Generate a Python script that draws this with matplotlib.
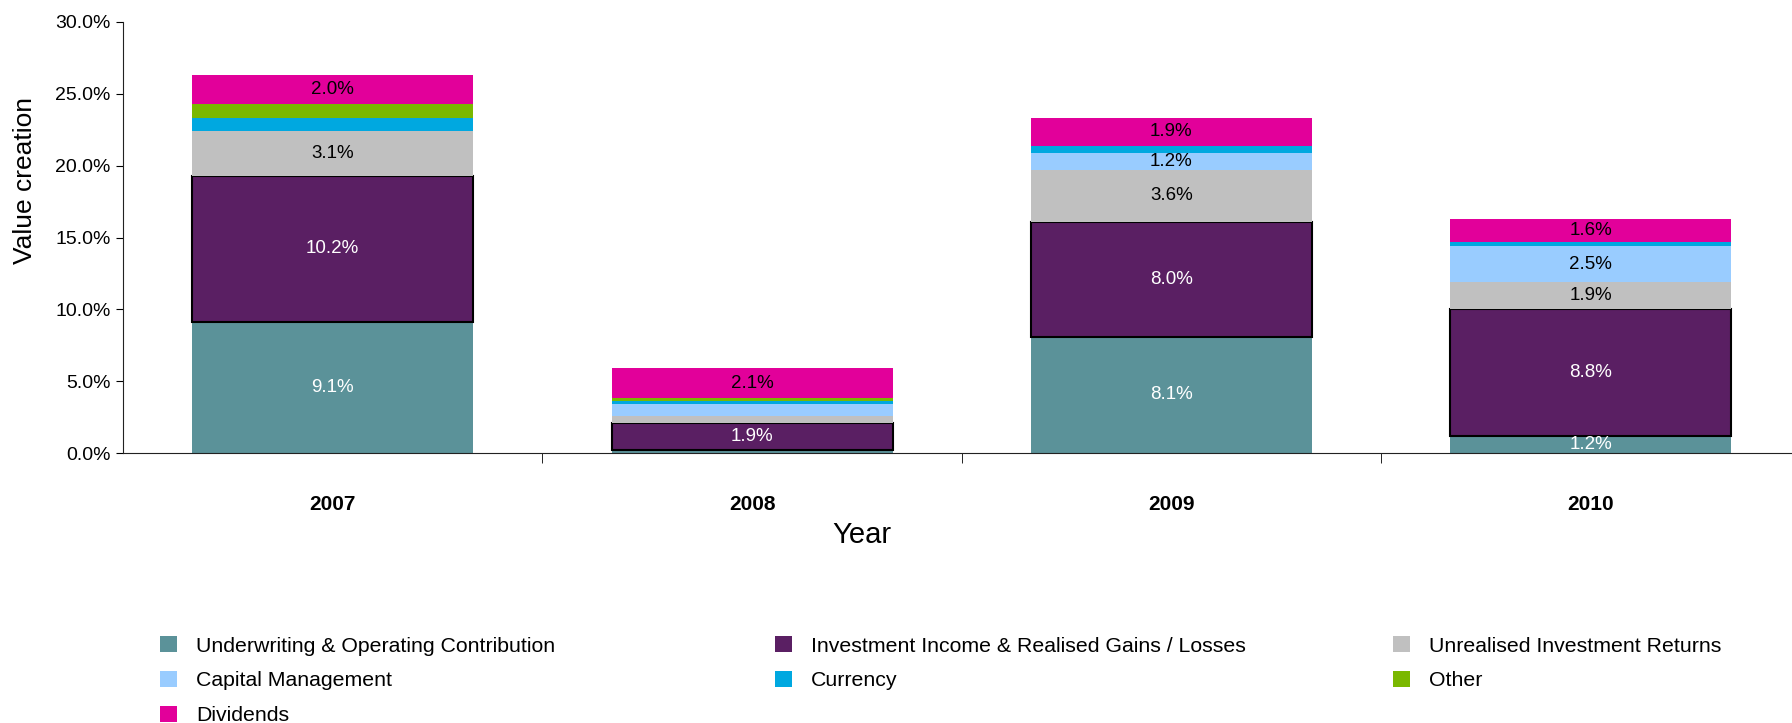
import numpy as np
import matplotlib
matplotlib.use("Agg")
import matplotlib.pyplot as plt
from matplotlib.patches import Patch
from matplotlib.ticker import FuncFormatter, FixedLocator

plt.rcParams['font.family'] = ['Liberation Sans', 'DejaVu Sans']

years = ["2007", "2008", "2009", "2010"]

underwriting = [9.1, 0.2, 8.1, 1.2]
investment_income = [10.2, 1.9, 8.0, 8.8]
unrealised = [3.1, 0.5, 3.6, 1.9]
capital_mgmt = [0.0, 0.8, 1.2, 2.5]
currency = [0.9, 0.2, 0.5, 0.3]
other = [1.0, 0.2, 0.0, 0.0]
dividends = [2.0, 2.1, 1.9, 1.6]

series = [
    ("Underwriting & Operating Contribution", underwriting, "#5B9299", "white"),
    ("Investment Income & Realised Gains / Losses", investment_income, "#5A1F63", "white"),
    ("Unrealised Investment Returns", unrealised, "#C0C0C0", "black"),
    ("Capital Management", capital_mgmt, "#99CCFF", "black"),
    ("Currency", currency, "#00A8E0", "black"),
    ("Other", other, "#7AB800", "black"),
    ("Dividends", dividends, "#E2009A", "black"),
]

W, H = 1792, 723
fig = plt.figure(figsize=(W / 100, H / 100), dpi=100)
ax = fig.add_axes([123 / W, 1 - 453 / H, (W - 123) / W, (453 - 22) / H])

x = np.arange(len(years))
bottom = np.zeros(len(years))
colors = {}
for name, vals, color, txt in series:
    vals = np.array(vals)
    edge = "black" if name.startswith("Investment Income") else "none"
    ax.bar(x, vals, width=0.67, bottom=bottom, color=color,
           edgecolor=edge, linewidth=1.5 if edge != "none" else 0, zorder=2)
    colors[name] = color
    for xi, v, b in zip(x, vals, bottom):
        if v >= 1.1:
            ax.text(xi, b + v / 2, f"{v:.1f}%", ha="center", va="center",
                    color=txt, fontsize=13.5, zorder=3)
    bottom += vals

ax.set_xlim(-0.5, 3.48)
ax.set_ylim(0, 30)
ax.yaxis.set_major_locator(FixedLocator(np.arange(0, 30.1, 5)))
ax.yaxis.set_major_formatter(FuncFormatter(lambda v, p: f"{v:.1f}%"))
ax.tick_params(axis="y", labelsize=14, length=5, direction="out", pad=4)

ax.set_xticks(x)
ax.set_xticklabels(years, fontsize=15, fontweight="bold")
ax.set_xticks([0.5, 1.5, 2.5], minor=True)
ax.tick_params(axis="x", which="major", length=0, pad=30)
ax.tick_params(axis="x", which="minor", length=7, direction="out")

for s in ["top", "right"]:
    ax.spines[s].set_visible(False)
ax.spines["left"].set_color("#222222")
ax.spines["bottom"].set_color("#222222")

ax.set_xlabel("Year", fontsize=21)
ax.xaxis.set_label_coords((862 - 123) / (W - 123), -(521 - 453) / (453 - 22))
ax.set_ylabel("Value creation", fontsize=19)
ax.yaxis.set_label_coords(-(123 - 37) / (W - 123), (453 - 180) / (453 - 22))

# legend laid out as three columns at fixed horizontal positions
columns = [
    (160, ["Underwriting & Operating Contribution", "Capital Management", "Dividends"]),
    (775, ["Investment Income & Realised Gains / Losses", "Currency"]),
    (1393, ["Unrealised Investment Returns", "Other"]),
]
for xpix, names in columns:
    fig.legend([Patch(facecolor=colors[n]) for n in names], names, loc="upper left",
               bbox_to_anchor=(xpix / W, 1 - 636 / H), frameon=False,
               fontsize=15.3, handlelength=0.8, handleheight=0.8,
               handletextpad=0.9, labelspacing=0.72, borderpad=0, borderaxespad=0)

fig.savefig("out.png", dpi=100)
